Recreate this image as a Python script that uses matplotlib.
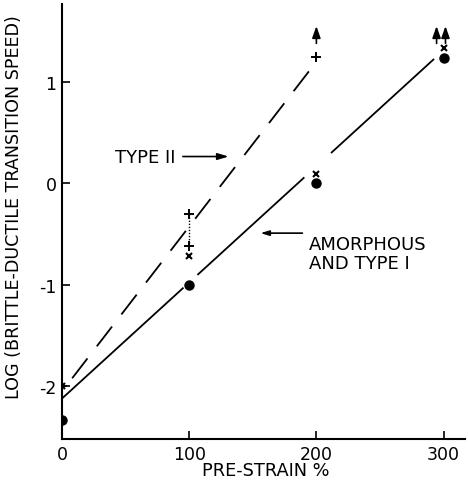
import numpy as np
import matplotlib
matplotlib.use('Agg')
import matplotlib.pyplot as plt

plt.rcParams['font.family'] = 'DejaVu Sans'
plt.rcParams['lines.scale_dashes'] = False

# amorphous (filled circles)
amo_x = [0, 100, 200, 300]
amo_y = [-2.33, -1.0, 0.0, 1.24]
# type I (crosses)
t1_x = [0, 100, 200, 300]
t1_y = [-2.0, -0.72, 0.09, 1.33]
# type II (plus)
t2_x = [0, 100, 100, 200]
t2_y = [-2.0, -0.3, -0.62, 1.25]
# lower bounds, arrows
arr_x = [200, 294.5, 301.5]
arr_y = [1.38, 1.38, 1.38]

# fitted lines (pieces as drawn, with gaps near the points)
solid_x = [[0, 95], [107, 190], [212, 292]]
dash_x = [8, 196]
solid_a, solid_b = -2.12, 0.01144
dash_a, dash_b = -2.05, 0.01625

fig = plt.figure(figsize=(4.68, 4.81), dpi=100)
ax = fig.add_axes([0.1325, 0.085, 0.8615, 0.905])

for seg in solid_x:
    xs = np.array(seg)
    ax.plot(xs, solid_a + solid_b * xs, color='black', lw=1.3)
xs = np.array(dash_x)
ax.plot(xs, dash_a + dash_b * xs, color='black', lw=1.3, dashes=(18, 11))

ax.plot([100, 100], [t2_y[1], t2_y[2]], color='black', lw=1.0, ls=(0, (1, 1.2)))

ax.plot(amo_x, amo_y, 'o', color='black', ms=6.5)
ax.plot(t1_x, t1_y, 'x', color='black', ms=4.5, mew=1.5)
ax.plot(t2_x, t2_y, '+', color='black', ms=7, mew=1.4)

for x, y in zip(arr_x, arr_y):
    ax.annotate('', xy=(x, y + 0.17), xytext=(x, y),
                arrowprops=dict(arrowstyle='-|>,head_length=0.7,head_width=0.25',
                                color='black', lw=1.2, shrinkA=0, shrinkB=0))

ax.annotate('TYPE II', xy=(131, 0.265), xytext=(42, 0.265),
            va='center', ha='left', fontsize=13,
            arrowprops=dict(arrowstyle='-|>,head_length=0.5,head_width=0.15',
                            color='black', lw=1.2, shrinkA=3, shrinkB=0))
ax.annotate('', xy=(156, -0.49), xytext=(189, -0.49),
            arrowprops=dict(arrowstyle='-|>,head_length=0.5,head_width=0.15',
                            color='black', lw=1.2, shrinkA=0, shrinkB=0))
ax.text(194, -0.51, 'AMORPHOUS\nAND TYPE I', va='top', ha='left',
        fontsize=13, linespacing=1.05, transform=ax.transData)

ax.set_xlim(0, 317)
ax.set_ylim(-2.52, 1.77)
ax.set_xticks([0, 100, 200, 300])
ax.set_yticks([-2, -1, 0, 1])
ax.set_yticklabels(['-2', '-1', '0', '1'])
ax.tick_params(direction='in', length=6, width=1.2, labelsize=12.5, colors='black', pad=4)
ax.spines['top'].set_visible(False)
ax.spines['right'].set_visible(False)
ax.spines['left'].set_linewidth(1.5)
ax.spines['bottom'].set_linewidth(1.5)

ax.set_xlabel('PRE-STRAIN %', fontsize=12.8)
ax.set_ylabel('LOG (BRITTLE-DUCTILE TRANSITION SPEED)', fontsize=12.6)
ax.xaxis.set_label_coords(0.506, -0.05)
ax.yaxis.set_label_coords(-0.096, 0.536)

fig.savefig('out.png', dpi=100)
